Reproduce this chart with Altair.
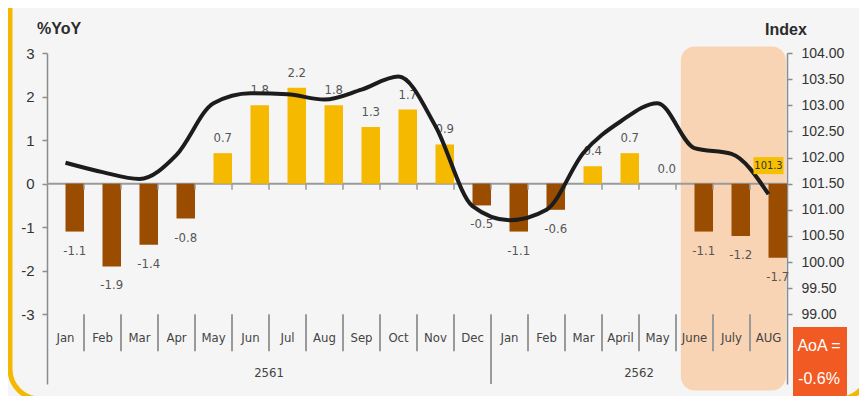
import altair as alt
import pandas as pd

# ---------------- data ----------------
months = ["Jan", "Feb", "Mar", "Apr", "May", "Jun", "Jul", "Aug", "Sep", "Oct", "Nov", "Dec",
          "Jan", "Feb", "Mar", "April", "May", "June", "July", "AUG"]
years = ["2561"] * 12 + ["2562"] * 8
yoy = [-1.1, -1.9, -1.4, -0.8, 0.7, 1.8, 2.2, 1.8, 1.3, 1.7, 0.9, -0.5,
       -1.1, -0.6, 0.4, 0.7, 0.0, -1.1, -1.2, -1.7]
index_vals = [101.90, 101.72, 101.59, 102.05, 103.04, 103.23, 103.21, 103.11, 103.30, 103.55,
              102.60, 101.07, 100.80, 101.00, 102.09, 102.69, 103.04, 102.18, 102.07, 101.30]
left_ticks = [-3, -2, -1, 0, 1, 2, 3]
right_ticks = [99.0, 99.5, 100.0, 100.5, 101.0, 101.5, 102.0, 102.5, 103.0, 103.5, 104.0]
highlight_from = "June"
aoa_lines = ["AoA =", "-0.6%"]
left_title = "%YoY"
right_title = "Index"

df = pd.DataFrame({"pos": list(range(len(months))), "month": months, "year": years,
                   "yoy": yoy, "index": index_vals})
df["label"] = [f"{v:.1f}" for v in yoy]
df["sign"] = ["neg" if v < 0 else "pos" for v in yoy]
bounds = pd.DataFrame({"b": list(range(1, len(months)))})
bounds["long"] = [years[b] != years[b - 1] for b in bounds["b"]]
hl_start = months.index(highlight_from, 12)

FONT = "Liberation Sans"
NARROW = "Liberation Sans Narrow, DejaVu Sans Condensed, Liberation Sans"
GRAY = "#8c8c8c"

xS = alt.Scale(domain=[0, len(months)], nice=False, zero=False)
yL = alt.Scale(domain=[-4.6, 3], nice=False, zero=False)
yR = alt.Scale(domain=[104 - 7.6 * 5 / 6, 104], nice=False, zero=False)

axL = alt.Axis(orient="left", values=left_ticks, labelExpr="'' + datum.value", title=None,
               grid=False, tickSize=5, labelPadding=8, labelFontSize=15, labelFont=FONT,
               labelColor="#333333", domainColor=GRAY, tickColor=GRAY, domainWidth=1.5,
               tickWidth=1.5)
axR = alt.Axis(orient="right", values=right_ticks, labelExpr="format(datum.value, '.2f')",
               title=None, grid=False, tickSize=5, labelPadding=9, labelFontSize=14,
               labelFont=FONT, labelColor="#333333", domainColor=GRAY, tickColor=GRAY,
               domainWidth=1.5, tickWidth=1.5)


def X(f):
    return alt.X(f, type="quantitative", scale=xS, axis=None)


def YL(f):
    return alt.Y(f, type="quantitative", scale=yL, axis=axL)


def YR(f):
    return alt.Y(f, type="quantitative", scale=yR, axis=axR)


base = alt.Chart(df)
one = alt.Chart(pd.DataFrame({"k": [0]}))

# highlight box
hl = one.mark_rect(color="#f8d4b4", cornerRadius=14).transform_calculate(
    x1=f"{hl_start} + 0.13", x2=f"{len(months)} - 0.03", y1="3.15", y2="-4.75"
).encode(x=X("x1"), x2="x2", y=YL("y1"), y2="y2")

zero_line = one.mark_rule(color="#9a9a9a", strokeWidth=2).transform_calculate(
    x1="0", x2=f"{len(months)}", y0="0"
).encode(x=X("x1"), x2="x2", y=YL("y0"))

bars = base.mark_rect().transform_calculate(
    x1="datum.pos + 0.5", x2="datum.pos + 1", y0="0"
).encode(
    x=X("x1"), x2="x2", y=YL("yoy"), y2="y0",
    color=alt.Color("sign:N", scale=alt.Scale(domain=["pos", "neg"],
                                              range=["#f5b900", "#9a4d00"]), legend=None),
)

zticks = alt.Chart(bounds).mark_rule(color="#9a9a9a", strokeWidth=1.5).transform_calculate(
    y1="0", y2="-0.14"
).encode(x=X("b"), y=YL("y1"), y2="y2")

lab_pos = base.transform_filter("datum.yoy >= 0").transform_calculate(
    xc="datum.pos + 0.75"
).mark_text(font=NARROW, fontSize=13, color="#555555", dy=-15).encode(
    x=X("xc"), y=YL("yoy"), text="label:N")

lab_neg = base.transform_filter("datum.yoy < 0").transform_calculate(
    xc="datum.pos + 0.75"
).mark_text(font=NARROW, fontSize=13, color="#555555", dy=19).encode(
    x=X("xc"), y=YL("yoy"), text="label:N")

seps = alt.Chart(bounds).mark_rule(color="#9a9a9a", strokeWidth=2).transform_calculate(
    y1="-3", y2="datum.long ? -4.6 : -3.85"
).encode(x=X("b"), y=YL("y1"), y2="y2")

mlabels = base.transform_calculate(xc="datum.pos + 0.5", yc="-3.55").mark_text(
    font=NARROW, fontSize=13, color="#444444"
).encode(x=X("xc"), y=YL("yc"), text="month:N")

ylabels = base.transform_aggregate(
    lo="min(pos)", hi="max(pos)", groupby=["year"]
).transform_calculate(xc="(datum.lo + datum.hi + 1) / 2", yc="-4.35").mark_text(
    font=NARROW, fontSize=13, color="#444444"
).encode(x=X("xc"), y=YL("yc"), text="year:N")

titles = alt.Chart(pd.DataFrame({"t": [left_title]})).mark_text(
    font=FONT, fontSize=16, fontWeight="bold", color="#2b2b2b"
).encode(x=alt.value(12), y=alt.value(-24), text="t:N")

titles_r = alt.Chart(pd.DataFrame({"t": [right_title]})).mark_text(
    font=FONT, fontSize=16, fontWeight="bold", color="#2b2b2b"
).encode(x=alt.value(739), y=alt.value(-23), text="t:N")

aoa_box = one.mark_rect(color="#f15a22").encode(
    x=alt.value(746), x2=alt.value(800), y=alt.value(274), y2=alt.value(346))

aoa_text = alt.Chart(pd.DataFrame({"t": ["\n".join(aoa_lines)]})).mark_text(
    font=FONT, fontSize=16, color="white", lineBreak="\n", lineHeight=33
).encode(x=alt.value(772), y=alt.value(293), text="t:N")

frame = one.mark_rect(fillOpacity=0, stroke="#f5b800", strokeWidth=5, cornerRadius=30).encode(
    x=alt.value(-37), x2=alt.value(822), y=alt.value(-80), y2=alt.value(346))

left = alt.layer(hl, zero_line, bars, zticks, lab_pos, lab_neg, seps, mlabels, ylabels,
                 titles, titles_r, aoa_box, aoa_text, frame)

line = base.transform_calculate(xc="datum.pos + 0.5").mark_line(
    color="#1c1c1c", strokeWidth=4, interpolate="monotone"
).encode(x=X("xc"), y=YR("index"))

last = base.transform_filter(f"datum.pos == {len(months) - 1}").transform_calculate(
    xc="datum.pos + 0.5", lab="format(datum.index, '.1f')")

lbox = last.mark_rect(color="#f5c000", xOffset=-15, x2Offset=15, yOffset=-37, y2Offset=-20).encode(
    x=X("xc"), x2="xc", y=YR("index"), y2="index")
ltext = last.mark_text(font=NARROW, fontSize=11, color="#333333", dy=-28).encode(
    x=X("xc"), y=YR("index"), text="lab:N")

right = alt.layer(line, lbox, ltext)

chart = alt.layer(left, right).resolve_scale(y="independent").properties(
    width=740, height=331,
    autosize=alt.AutoSizeParams(type="none"),
    padding={"left": 39, "top": 45, "right": 72, "bottom": 12},
    background="#f5f5f5",
).configure_view(stroke=None)

chart.save("out.html", embed_options={"renderer": "svg", "actions": False})
